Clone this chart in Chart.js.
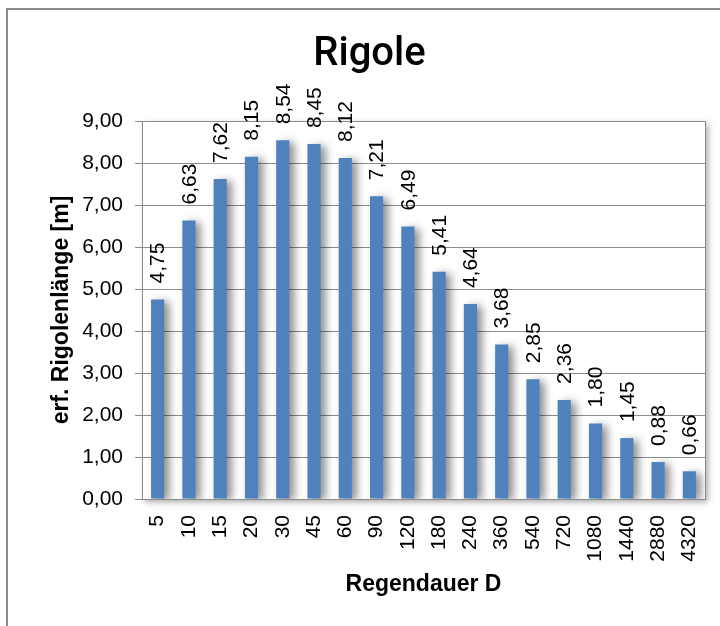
<!DOCTYPE html>
<html>
<head>
<meta charset="utf-8">
<script src="https://cdn.jsdelivr.net/npm/chart.js@4"></script>
<style>
  body { margin: 0; background: #fff; }
  .wrap { position: relative; width: 720px; height: 626px; overflow: hidden; }
  .frame { position: absolute; left: 6px; top: 8px; width: 800px; height: 700px; border-left: 2px solid #8c8c8c; border-top: 2px solid #8c8c8c; }
  #myChart { position: absolute; left: 0; top: 0; }
</style>
</head>
<body>
<div class="wrap">
  <div class="frame"></div>
  <canvas id="myChart" width="720" height="626"></canvas>
</div>
<script>
const durations = ['5', '10', '15', '20', '30', '45', '60', '90', '120', '180', '240', '360', '540', '720', '1080', '1440', '2880', '4320'];
const lengths = [4.75, 6.63, 7.62, 8.15, 8.54, 8.45, 8.12, 7.21, 6.49, 5.41, 4.64, 3.68, 2.85, 2.36, 1.80, 1.45, 0.88, 0.66];
const yTicks = [0, 1, 2, 3, 4, 5, 6, 7, 8, 9];

const fmt = (v) => v.toFixed(2).replace('.', ',');

// white plot area with a soft shadow at right / bottom
const plotBox = {
  id: 'plotBox',
  beforeDraw: (chart) => {
    const a = chart.chartArea;
    const ctx = chart.ctx;
    ctx.save();
    ctx.shadowColor = 'rgba(0,0,0,0.35)';
    ctx.shadowBlur = 6;
    ctx.shadowOffsetX = 3;
    ctx.shadowOffsetY = 3;
    ctx.fillStyle = '#fff';
    ctx.fillRect(a.left, a.top, a.right - a.left, a.bottom - a.top);
    ctx.restore();
    ctx.save();
    ctx.strokeStyle = '#8c8c8c';
    ctx.lineWidth = 1;
    ctx.beginPath();
    ctx.moveTo(a.right + 0.5, a.top);
    ctx.lineTo(a.right + 0.5, a.bottom);
    ctx.stroke();
    ctx.restore();
  },
  beforeDatasetDraw: (chart) => {
    const ctx = chart.ctx;
    ctx.save();
    ctx.shadowColor = 'rgba(0,0,0,0.45)';
    ctx.shadowBlur = 8;
    ctx.shadowOffsetX = 5;
    ctx.shadowOffsetY = 2;
  },
  afterDatasetDraw: (chart) => {
    chart.ctx.restore();
  },
  afterDatasetsDraw: (chart) => {
    const ctx = chart.ctx;
    const meta = chart.getDatasetMeta(0);
    ctx.save();
    ctx.fillStyle = '#000';
    ctx.font = '21px "Liberation Sans", Arial, sans-serif';
    ctx.textAlign = 'left';
    ctx.textBaseline = 'middle';
    meta.data.forEach((bar, i) => {
      ctx.save();
      ctx.translate(bar.x + 1, bar.y - 16);
      ctx.rotate(-Math.PI / 2);
      ctx.fillText(fmt(lengths[i]), 0, 0);
      ctx.restore();
    });
    ctx.restore();
  }
};

const ctx = document.getElementById('myChart').getContext('2d');
const myChart = new Chart(ctx, {
  type: 'bar',
  data: {
    labels: durations,
    datasets: [
      {
        label: 'Rigole',
        data: lengths,
        backgroundColor: '#4f81bd',
        borderWidth: 0,
        categoryPercentage: 1,
        barPercentage: 0.42,
      },
    ],
  },
  options: {
    responsive: false,
    animation: false,
    layout: { padding: { left: 34, right: 15, top: 0, bottom: 0 } },
    plugins: {
      legend: { display: false },
      tooltip: { enabled: false },
      title: {
        display: true,
        text: 'Rigole',
        color: '#000',
        font: { family: 'Roboto, "Liberation Sans", Arial, sans-serif', size: 40, weight: '500' },
        padding: { top: 31, bottom: 42 },
      },
    },
    scales: {
      x: {
        afterFit: (s) => { s.height = 127; s.paddingLeft = 0; s.paddingRight = 0; },
        grid: { display: false, drawTicks: false },
        border: { display: true, color: '#8c8c8c', width: 1 },
        ticks: {
          color: '#000',
          font: { family: '"Liberation Sans", Arial, sans-serif', size: 21 },
          minRotation: 90,
          maxRotation: 90,
          autoSkip: false,
          padding: 16,
        },
        title: {
          display: true,
          text: 'Regendauer D',
          color: '#000',
          font: { family: '"Liberation Sans", Arial, sans-serif', size: 23, weight: 'bold' },
          padding: { top: 0, bottom: 28 },
        },
      },
      y: {
        min: 0,
        max: 9,
        afterFit: (s) => { s.width = 108; },
        afterBuildTicks: (s) => { s.ticks = yTicks.map((v) => ({ value: v })); },
        grid: { color: '#8c8c8c', tickLength: 7, lineWidth: 1 },
        border: { display: true, color: '#8c8c8c', width: 1 },
        ticks: {
          color: '#000',
          font: { family: '"Liberation Sans", Arial, sans-serif', size: 21 },
          padding: 12,
          callback: (v) => fmt(v),
        },
        title: {
          display: true,
          text: 'erf. Rigolenlänge [m]',
          color: '#000',
          font: { family: '"Liberation Sans", Arial, sans-serif', size: 23, weight: 'bold' },
          padding: { top: 14, bottom: 0 },
        },
      },
    },
  },
  plugins: [plotBox],
});
</script>
</body>
</html>
